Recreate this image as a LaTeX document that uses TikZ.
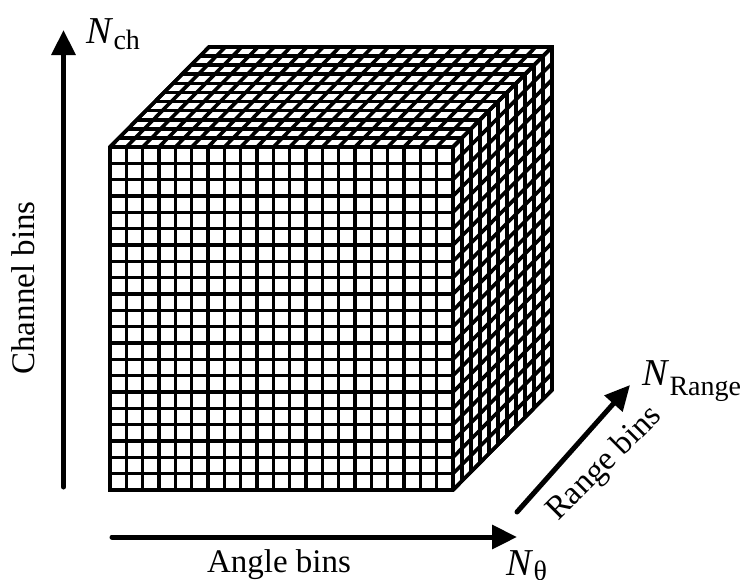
\documentclass[tikz,border=0pt]{standalone}
\usepackage{fontspec}
\setmainfont{Liberation Serif}
\usetikzlibrary{arrows.meta}

\def\cel{16.333}

\begin{document}
\begin{tikzpicture}[x=0.5pt,y=-0.5pt,
    grade/.style={line width=1.8pt},
    borda/.style={line width=1.8pt, line join=miter},
    eixo/.style={line width=2.5pt, line cap=round, -{Triangle[length=12.5pt,width=11.7pt]}},
    rotulo/.style={font=\fontsize{16.5}{16.5}\selectfont, inner sep=0pt},
    simbolo/.style={font=\fontsize{19}{19}\selectfont, inner sep=0pt, anchor=base west}]
    \useasboundingbox (0,0) rectangle (743,579);

    % Face frontal
    \fill[white] (110,147) rectangle (453,490);
    \foreach \i in {0,...,21} {
        \draw[grade] (110+\i*\cel,147) -- (110+\i*\cel,490);
        \draw[grade] (110,147+\i*\cel) -- (453,147+\i*\cel);
    }

    % Face superior
    \foreach \i in {0,...,21}
        \draw[grade] (110+\i*\cel,147) -- ++(99,-100);
    \foreach \j in {0,...,11}
        \draw[grade] (110+\j*9,147-\j*9.091) -- ++(343,0);

    % Face lateral
    \foreach \i in {0,...,21}
        \draw[grade] (453,147+\i*\cel) -- ++(99,-100);
    \foreach \j in {0,...,11}
        \draw[grade] (453+\j*9,147-\j*9.091) -- ++(0,343);

    % Contorno do cubo
    \draw[borda] (110,490) -- (110,147) -- (209,47) -- (552,47) -- (552,390) -- (453,490) -- cycle;
    \draw[borda] (110,147) -- (453,147) -- (552,47);
    \draw[borda] (453,147) -- (453,490);

    % Eixos
    \coordinate (ch0) at (63.5,487);
    \coordinate (ch1) at (63.5,30);
    \coordinate (ang0) at (112,537);
    \coordinate (ang1) at (517,537);
    \coordinate (rg0) at (517,512);
    \coordinate (rg1) at (630,385);
    \draw[eixo] (ch0) -- (ch1);
    \draw[eixo] (ang0) -- (ang1);
    \draw[eixo] (rg0) -- (rg1);

    % Rotulos dos eixos
    \node[rotulo, rotate=90] (canal) at (23,288) {Channel bins};
    \node[rotulo, anchor=base] (angulo) at (279,572) {Angle bins};
    \node[rotulo, rotate=45] (alcance) at (605,464) {Range bins};

    % Dimensoes
    \node[simbolo] (nch) at (86,43) {\textit{N}\raisebox{-3pt}{\fontsize{14}{14}\selectfont ch}};
    \node[simbolo] (nrange) at (642,385) {\textit{N}\raisebox{-5pt}{\fontsize{14}{14}\selectfont Range}};
    \node[simbolo] (ntheta) at (506,575) {\textit{N}\raisebox{-2.5pt}{\fontsize{14}{14}\selectfont θ}};
\end{tikzpicture}
\end{document}
